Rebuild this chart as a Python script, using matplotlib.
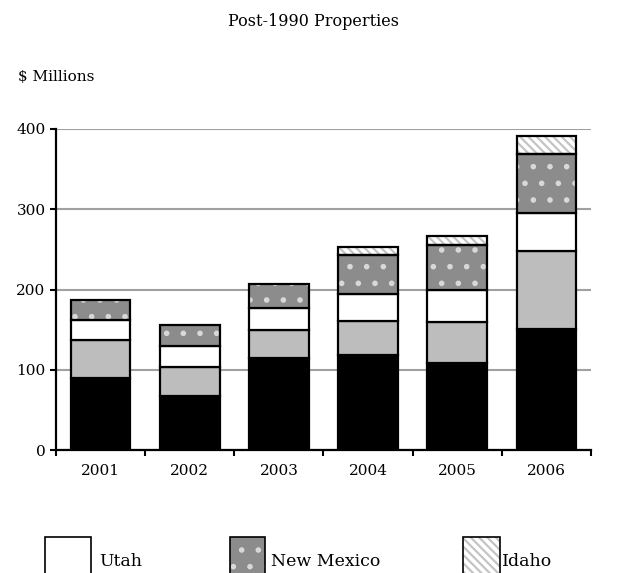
import numpy as np
import matplotlib
matplotlib.use("Agg")
import matplotlib.pyplot as plt
from matplotlib.patches import Rectangle

plt.rcParams["font.family"] = ["DejaVu Serif"]
plt.rcParams["hatch.linewidth"] = 1.6

# 数据（从图上读取，单位：百万美元）
years = ["2001", "2002", "2003", "2004", "2005", "2006"]
base_black = [90, 67, 115, 118, 109, 151]
base_gray = [47, 36, 35, 43, 51, 97]
utah = [25, 27, 27, 34, 39, 47]
new_mexico = [25, 26, 30, 48, 57, 74]
idaho = [0, 0, 0, 10, 11, 22]

fig = plt.figure(figsize=(6.25, 5.73), dpi=100)
ax = fig.add_axes([56 / 625, 1 - 450 / 573, (591 - 56) / 625, (450 - 129) / 573])

x = np.arange(len(years))
w = 0.67
edge = dict(edgecolor="black", linewidth=1.6)
dot_col = "#d8d8d8"
hatch_col = "#c4c4c4"

bottom = np.zeros(len(years))
ax.bar(x, base_black, w, bottom=bottom, color="black", zorder=3, **edge)
bottom += base_black
ax.bar(x, base_gray, w, bottom=bottom, color="#bdbdbd", zorder=3, **edge)
bottom += base_gray
ax.bar(x, utah, w, bottom=bottom, color="white", zorder=3, **edge)
bottom += utah
# New Mexico：灰底白点
ax.bar(x, new_mexico, w, bottom=bottom, color="#8c8c8c", hatch=".", edgecolor=dot_col, linewidth=0, zorder=3)
ax.bar(x, new_mexico, w, bottom=bottom, fill=False, zorder=4, **edge)
bottom += new_mexico
# Idaho：斜线
mask = np.array(idaho) > 0
ax.bar(x[mask], np.array(idaho)[mask], w, bottom=bottom[mask], color="white", hatch="\\\\\\\\",
       edgecolor=hatch_col, linewidth=0, zorder=3)
ax.bar(x[mask], np.array(idaho)[mask], w, bottom=bottom[mask], fill=False, zorder=4, **edge)

ax.set_xlim(-0.5, len(years) - 0.5)
ax.set_ylim(0, 400)
ax.set_yticks([0, 100, 200, 300, 400])
ax.yaxis.grid(True, color="#a0a0a0", linewidth=1.5, zorder=0)
ax.set_axisbelow(True)

ax.set_xticks(x)
ax.set_xticklabels(years, fontsize=11)
ax.tick_params(axis="x", length=0, pad=10)
ax.set_xticks(np.arange(-0.5, len(years)), minor=True)
ax.tick_params(axis="x", which="minor", length=4, width=1.5, direction="out")
ax.tick_params(axis="y", labelsize=11, length=4, width=1.5, direction="out")

for s in ["top", "right"]:
    ax.spines[s].set_visible(False)
for s in ["left", "bottom"]:
    ax.spines[s].set_linewidth(1.6)

fig.text(313 / 625, 1 - 22 / 573, "Post-1990 Properties", ha="center", va="center", fontsize=11.5)
fig.text(18 / 625, 1 - 77 / 573, "$ Millions", ha="left", va="center", fontsize=11)

# 图例（手工绘制）
def legend_box(x0, x1, **kw):
    r = Rectangle((x0 / 625, 1 - 575 / 573), (x1 - x0) / 625, 38 / 573,
                  transform=fig.transFigure, **kw)
    fig.patches.append(r)
    return r

legend_box(45, 91, facecolor="white", edgecolor="black", linewidth=1.2)
legend_box(230, 265, facecolor="#8c8c8c", edgecolor=dot_col, hatch=".", linewidth=0)
legend_box(230, 265, fill=False, edgecolor="black", linewidth=1.2)
legend_box(463, 500, facecolor="white", edgecolor=hatch_col, hatch="\\\\\\\\", linewidth=0)
legend_box(463, 500, fill=False, edgecolor="black", linewidth=1.2)

fig.text(99 / 625, 1 - 562 / 573, "Utah", ha="left", va="center", fontsize=12.5)
fig.text(271 / 625, 1 - 562 / 573, "New Mexico", ha="left", va="center", fontsize=12.5)
fig.text(502 / 625, 1 - 562 / 573, "Idaho", ha="left", va="center", fontsize=12.5)

fig.savefig("out.png", dpi=100)
